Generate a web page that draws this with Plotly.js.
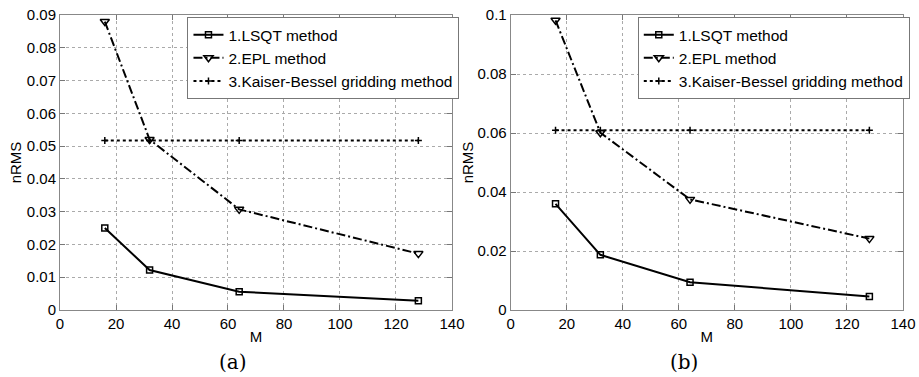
<!DOCTYPE html>
<html>
<head>
<meta charset="utf-8">
<script src="https://cdn.plot.ly/plotly-3.0.1.min.js"></script>
<style>html,body{margin:0;padding:0;background:#fff;}#chart{width:919px;height:377px;}</style>
</head>
<body>
<div id="chart"></div>
<script>
const M = [16, 32, 64, 128];
const seriesNames = ['1.LSQT method', '2.EPL method', '3.Kaiser-Bessel gridding method'];
// panel (a)
const lsqtA = [0.0250, 0.0122, 0.0056, 0.0028];
const eplA  = [0.0880, 0.0520, 0.0307, 0.0172];
const kbA   = [0.0517, 0.0517, 0.0517, 0.0517];
// panel (b)
const lsqtB = [0.0360, 0.0187, 0.0094, 0.0046];
const eplB  = [0.0982, 0.0601, 0.0375, 0.0242];
const kbB   = [0.0609, 0.0609, 0.0609, 0.0609];
const panelLabels = ['(a)', '(b)'];

const styles = [
  {line: {color: '#000', width: 2, dash: 'solid'}, marker: {symbol: 'square-open', size: 6, color: '#000', line: {width: 1.5, color: '#000'}}},
  {line: {color: '#000', width: 2, dash: '9px,3px,2px,3px'}, marker: {symbol: 'triangle-down-open', size: 8, color: '#000', line: {width: 1.5, color: '#000'}}},
  {line: {color: '#000', width: 2, dash: 'dot'}, marker: {symbol: 'cross-thin-open', size: 5, color: '#000', line: {width: 1.5, color: '#000'}}}
];

function mk(y, i, xa, ya, lg) {
  return {x: M, y: y, name: seriesNames[i], mode: 'lines+markers', type: 'scatter',
    xaxis: xa, yaxis: ya, legend: lg, line: styles[i].line, marker: styles[i].marker};
}
const data = [
  mk(lsqtA, 0, 'x', 'y', 'legend'), mk(eplA, 1, 'x', 'y', 'legend'), mk(kbA, 2, 'x', 'y', 'legend'),
  mk(lsqtB, 0, 'x2', 'y2', 'legend2'), mk(eplB, 1, 'x2', 'y2', 'legend2'), mk(kbB, 2, 'x2', 'y2', 'legend2')
];

const font = {family: 'Liberation Sans, Arial, sans-serif', size: 15, color: '#000'};
function xax(dom, anchor) {
  return {domain: dom, anchor: anchor, range: [0, 140], dtick: 20, ticks: 'inside', ticklen: 5,
    tickcolor: '#777', showline: true, linecolor: '#888', linewidth: 1, mirror: 'ticks',
    showgrid: true, gridcolor: '#aaa', griddash: 'dot', gridwidth: 1, zeroline: false,
    tickfont: font, title: {text: 'M', font: font, standoff: 0}};
}
function yax(range, dtick, anchor, so) {
  return {domain: [0, 1], anchor: anchor, range: range, dtick: dtick, ticks: 'inside', ticklen: 5,
    tickcolor: '#777', showline: true, linecolor: '#888', linewidth: 1, mirror: 'ticks',
    showgrid: true, gridcolor: '#aaa', griddash: 'dot', gridwidth: 1, zeroline: false,
    tickfont: font, title: {text: 'nRMS', font: font, standoff: so}};
}
const legendBase = {bgcolor: '#fff', bordercolor: '#777', borderwidth: 1,
  font: {family: 'Liberation Sans, Arial, sans-serif', size: 15.5, color: '#000'},
  xanchor: 'left', yanchor: 'top', itemwidth: 30, tracegroupgap: 0};

const layout = {
  width: 919, height: 377,
  margin: {l: 0, r: 0, t: 15, b: 67},
  paper_bgcolor: '#fff', plot_bgcolor: '#fff',
  font: font,
  showlegend: true,
  xaxis: xax([0.0653, 0.4918], 'y'),
  yaxis: yax([0, 0.09], 0.01, 'x', 1),
  xaxis2: xax([0.5557, 0.9826], 'y2'),
  yaxis2: yax([0, 0.1], 0.02, 'x2', 0),
  legend: Object.assign({x: 0.204, y: 0.993}, legendBase),
  legend2: Object.assign({x: 0.694, y: 0.993}, legendBase),
  annotations: [
    {text: panelLabels[0], xref: 'paper', yref: 'paper', x: 0.2535, y: -0.177, xanchor: 'center', yanchor: 'middle', showarrow: false, font: {family: 'DejaVu Serif, Liberation Serif, serif', size: 20, color: '#000'}},
    {text: panelLabels[1], xref: 'paper', yref: 'paper', x: 0.7443, y: -0.177, xanchor: 'center', yanchor: 'middle', showarrow: false, font: {family: 'DejaVu Serif, Liberation Serif, serif', size: 20, color: '#000'}}
  ]
};
Plotly.newPlot('chart', data, layout, {displayModeBar: false, staticPlot: true});
</script>
</body>
</html>
